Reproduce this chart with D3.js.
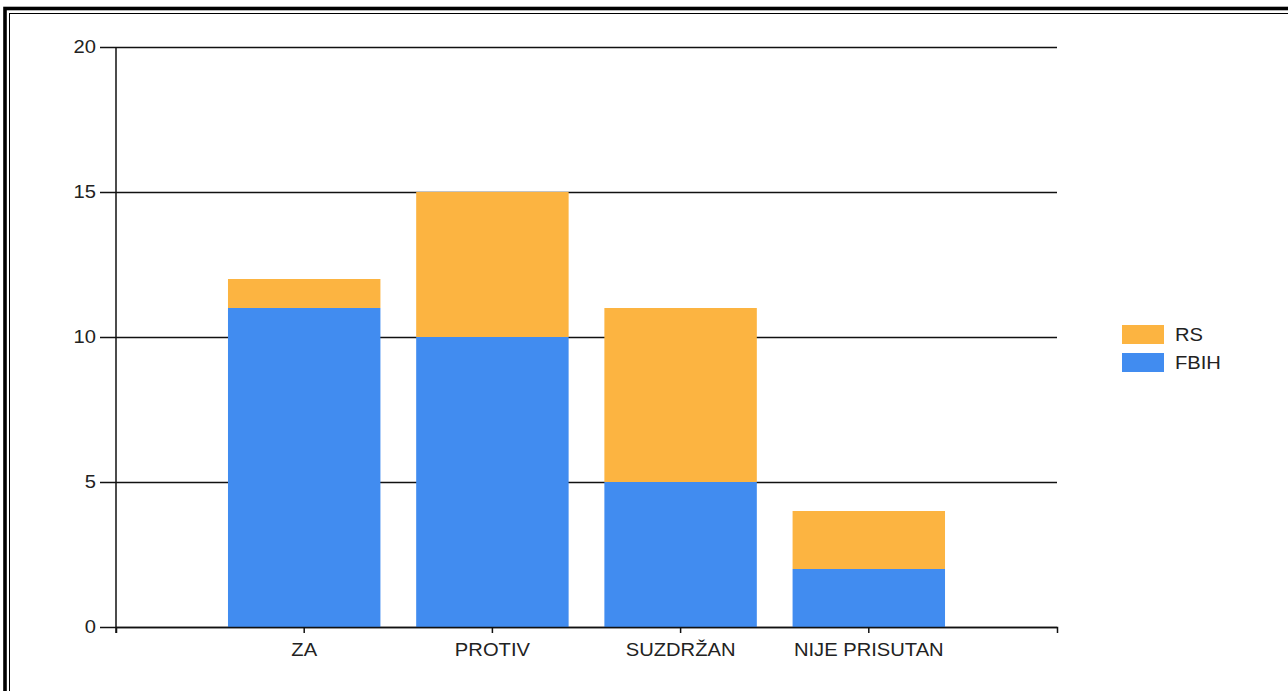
<!DOCTYPE html>
<html>
<head>
<meta charset="utf-8">
<script src="https://cdn.jsdelivr.net/npm/d3@7"></script>
<style>
  html, body { margin: 0; padding: 0; background: #fff; }
  svg { display: block; }
  text { font-family: "Liberation Sans", Arial, sans-serif; fill: #222; }
</style>
</head>
<body>
<svg id="chart" width="1288" height="691"></svg>
<script>
const categories = ["ZA", "PROTIV", "SUZDRŽAN", "NIJE PRISUTAN"];
const seriesNames = ["FBIH", "RS"];
const fbihValues = [11, 10, 5, 2];
const rsValues = [1, 5, 6, 2];
const yTicks = [0, 5, 10, 15, 20];
const colors = { FBIH: "#418CF0", RS: "#FCB441" };
const legendOrder = ["RS", "FBIH"];

(function () {
const svg = d3.select("#chart");

// outer frame (thick + thin lines, extends beyond right/bottom)
svg.append("rect").attr("x", 5).attr("y", 8.5).attr("width", 1400).attr("height", 800)
  .attr("fill", "none").attr("stroke", "#000").attr("stroke-width", 3.6);
svg.append("rect").attr("x", 9.5).attr("y", 13.5).attr("width", 1400).attr("height", 800)
  .attr("fill", "none").attr("stroke", "#000").attr("stroke-width", 1);

const pLeft = 116, pRight = 1057, pTop = 47, pBottom = 627;

const x = d3.scaleBand().domain(categories).range([pLeft, pRight])
  .paddingInner(0.19).paddingOuter(0.595);
const y = d3.scaleLinear().domain([0, 20]).range([pBottom, pTop]);

const rows = categories.map((c, i) => ({ cat: c, FBIH: fbihValues[i], RS: rsValues[i] }));
const stack = d3.stack().keys(seriesNames)(rows);

// gridlines + y axis
const yAxis = d3.axisLeft(y).tickValues(yTicks).tickSize(16).tickSizeOuter(0).tickPadding(4);
const gy = svg.append("g").attr("transform", `translate(${pLeft},0)`).call(yAxis);
gy.select(".domain").remove();
gy.selectAll(".tick line").attr("x2", pRight - pLeft).attr("x1", -16)
  .attr("stroke", "#111").attr("stroke-width", 1.5);
gy.selectAll(".tick text").attr("font-size", 18.5).attr("fill", "#222")
  .attr("font-family", "Liberation Sans, Arial, sans-serif");

// bars
svg.append("g").selectAll("g").data(stack).join("g")
  .attr("fill", d => colors[d.key])
  .selectAll("rect").data(d => d).join("rect")
  .attr("x", d => x(d.data.cat))
  .attr("width", x.bandwidth())
  .attr("y", d => y(d[1]))
  .attr("height", d => y(d[0]) - y(d[1]));

// y axis vertical line
svg.append("line").attr("x1", pLeft).attr("x2", pLeft).attr("y1", y(20)).attr("y2", pBottom + 6)
  .attr("stroke", "#111").attr("stroke-width", 1.5);

// x axis
const xAxis = d3.axisBottom(x).tickSize(6).tickSizeOuter(6).tickPadding(10);
const gx = svg.append("g").attr("transform", `translate(0,${pBottom})`).call(xAxis);
gx.select(".domain").attr("stroke", "#111").attr("stroke-width", 1.5);
gx.selectAll(".tick line").attr("stroke", "#111").attr("stroke-width", 1.5);
gx.selectAll(".tick text").attr("font-size", 18.5).attr("fill", "#222")
  .attr("font-family", "Liberation Sans, Arial, sans-serif");

// legend
const lg = svg.append("g");
legendOrder.forEach((k, i) => {
  const yy = 325 + i * 28;
  lg.append("rect").attr("x", 1122).attr("y", yy).attr("width", 42).attr("height", 19)
    .attr("fill", colors[k]);
  lg.append("text").attr("x", 1175).attr("y", yy + 16).attr("font-size", 18.5).text(k);
});

// horizontal stretch of text to match reference
svg.selectAll("text").each(function () {
  const len = this.getComputedTextLength();
  d3.select(this).attr("textLength", len * 1.09).attr("lengthAdjust", "spacingAndGlyphs");
});
})();
</script>
</body>
</html>
